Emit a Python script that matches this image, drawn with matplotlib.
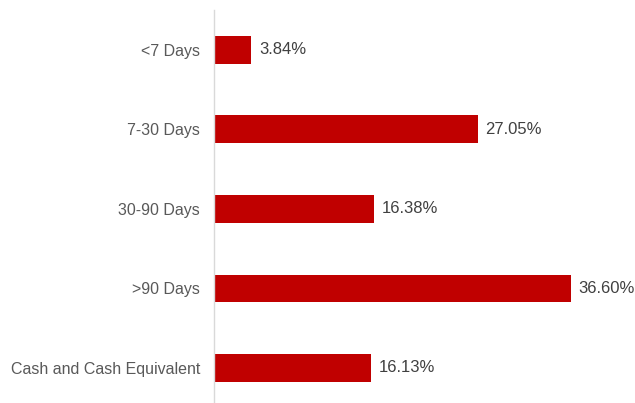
import matplotlib
matplotlib.use("Agg")
import matplotlib.pyplot as plt

categories = ["<7 Days", "7-30 Days", "30-90 Days", ">90 Days", "Cash and Cash Equivalent"]
values = [3.84, 27.05, 16.38, 36.60, 16.13]
value_labels = ["3.84%", "27.05%", "16.38%", "36.60%", "16.13%"]

plt.rcParams['font.family'] = ['Liberation Sans', 'DejaVu Sans']
fig = plt.figure(figsize=(6.35, 4.03), dpi=100)
ax = fig.add_axes([214/635, 0, 1 - 214/635, 393/403])
ypos = list(range(len(categories)))
bars = ax.barh(ypos, values, height=0.35, color="#C00000")
for b, lab in zip(bars, value_labels):
    ax.text(b.get_width() + 0.8, b.get_y() + b.get_height()/2, lab,
            va="center", ha="left", fontsize=12, color="#404040")
ax.set_yticks(ypos)
ax.set_yticklabels(categories, fontsize=11.5, color="#595959")
ax.set_ylim(4.44, -0.5)
ax.set_xlim(0, 421/9.75)
ax.set_xticks([])
for s in ["top", "right", "bottom"]:
    ax.spines[s].set_visible(False)
ax.spines["left"].set_color("#D9D9D9")
ax.spines["left"].set_linewidth(1)
ax.tick_params(axis="y", length=0, pad=10)
fig.savefig("out.png", dpi=100)
